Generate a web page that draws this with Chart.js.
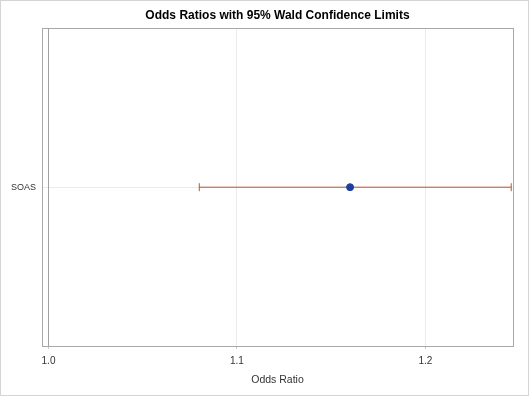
<!DOCTYPE html>
<html>
<head>
<meta charset="utf-8">
<style>
  html, body { margin: 0; padding: 0; background: #fff; }
  #wrap { width: 529px; height: 396px; }
</style>
<script src="https://cdn.jsdelivr.net/npm/chart.js@4/dist/chart.umd.min.js"></script>
</head>
<body>
<div id="wrap"><canvas id="c" width="529" height="396"></canvas></div>
<script>
'use strict';

/* ── Data ───────────────────────────────────────────── */
const categories = ['SOAS'];
const oddsRatio  = [1.160];
const lowerCL    = [1.080];
const upperCL    = [1.2455];
const xTicks     = [1.0, 1.1, 1.2];
const refValue   = 1.0;

const FONT = "'Liberation Sans', Arial, sans-serif";

/* one row per category, centred on its index */
const pointData = oddsRatio.map((v, i) => ({ x: v, y: i }));
const ciData = [];
categories.forEach((c, i) => {
  ciData.push({ x: lowerCL[i], y: i }, { x: upperCL[i], y: i }, { x: NaN, y: i });
});
const refData = [{ x: refValue, y: -1 }, { x: refValue, y: categories.length }];

/* frame around plot area and around the whole graph */
const framePlugin = {
  id: 'frame',
  afterDraw(chart) {
    const { ctx, chartArea: a } = chart;
    ctx.save();
    ctx.strokeStyle = '#a8a8a8';
    ctx.lineWidth = 1;
    ctx.strokeRect(Math.round(a.left) + 0.5, Math.round(a.top) + 0.5,
      Math.round(a.right - a.left), Math.round(a.bottom - a.top));
    ctx.strokeStyle = '#d4d4d4';
    ctx.strokeRect(0.5, 0.5, chart.width - 1, chart.height - 1);
    ctx.restore();
  }
};

new Chart(document.getElementById('c'), {
  type: 'scatter',
  data: {
    datasets: [
      {
        label: 'ref',
        data: refData,
        showLine: true,
        borderColor: '#a0a0a0',
        borderWidth: 1,
        pointRadius: 0,
        order: 3
      },
      {
        label: '95% CL',
        data: ciData,
        showLine: true,
        spanGaps: false,
        borderColor: '#b4582f',
        borderWidth: 1,
        pointStyle: 'line',
        rotation: 90,
        pointRadius: 4,
        pointBorderColor: '#b4582f',
        pointBorderWidth: 1,
        order: 2
      },
      {
        label: 'Odds Ratio',
        data: pointData,
        backgroundColor: '#1f3f9f',
        borderColor: '#1f3f9f',
        pointRadius: 3.5,
        order: 1
      }
    ]
  },
  options: {
    responsive: false,
    animation: false,
    // left padding reserves the label column so the title centres over the plot
    layout: { padding: { left: 42, right: 16, top: 0, bottom: 0 } },
    plugins: {
      legend: { display: false },
      tooltip: { enabled: false },
      title: {
        display: true,
        text: 'Odds Ratios with 95% Wald Confidence Limits',
        color: '#000',
        font: { family: FONT, size: 12, weight: 'bold' },
        padding: { top: 8, bottom: 6 }
      }
    },
    scales: {
      x: {
        type: 'linear',
        min: 0.99655,
        max: 1.24645,
        afterBuildTicks: s => { s.ticks = xTicks.map(v => ({ value: v })); },
        afterFit: s => { s.height = 50; },
        border: { display: false },
        grid: { color: '#ebebeb', tickColor: '#c8c8c8', tickLength: 3 },
        ticks: {
          color: '#333',
          padding: 6,
          font: { family: FONT, size: 10 },
          callback: v => v.toFixed(1)
        },
        title: {
          display: true,
          text: 'Odds Ratio',
          color: '#333',
          font: { family: FONT, size: 10.5 },
          padding: { top: 0, bottom: 10 }
        }
      },
      y: {
        type: 'linear',
        min: -1,
        max: categories.length,
        reverse: true,
        afterBuildTicks: s => { s.ticks = categories.map((c, i) => ({ value: i })); },
        afterFit: s => { s.width = 0; },
        border: { display: false },
        grid: { color: '#ebebeb', drawTicks: false },
        ticks: {
          // mirrored so the label is not clipped to the zero-width scale box,
          // then pulled back left of the plot with a negative padding
          mirror: true,
          crossAlign: 'near',
          color: '#333',
          padding: -31,
          font: { family: FONT, size: 9 },
          callback: v => categories[v]
        }
      }
    }
  },
  plugins: [framePlugin]
});
</script>
</body>
</html>
